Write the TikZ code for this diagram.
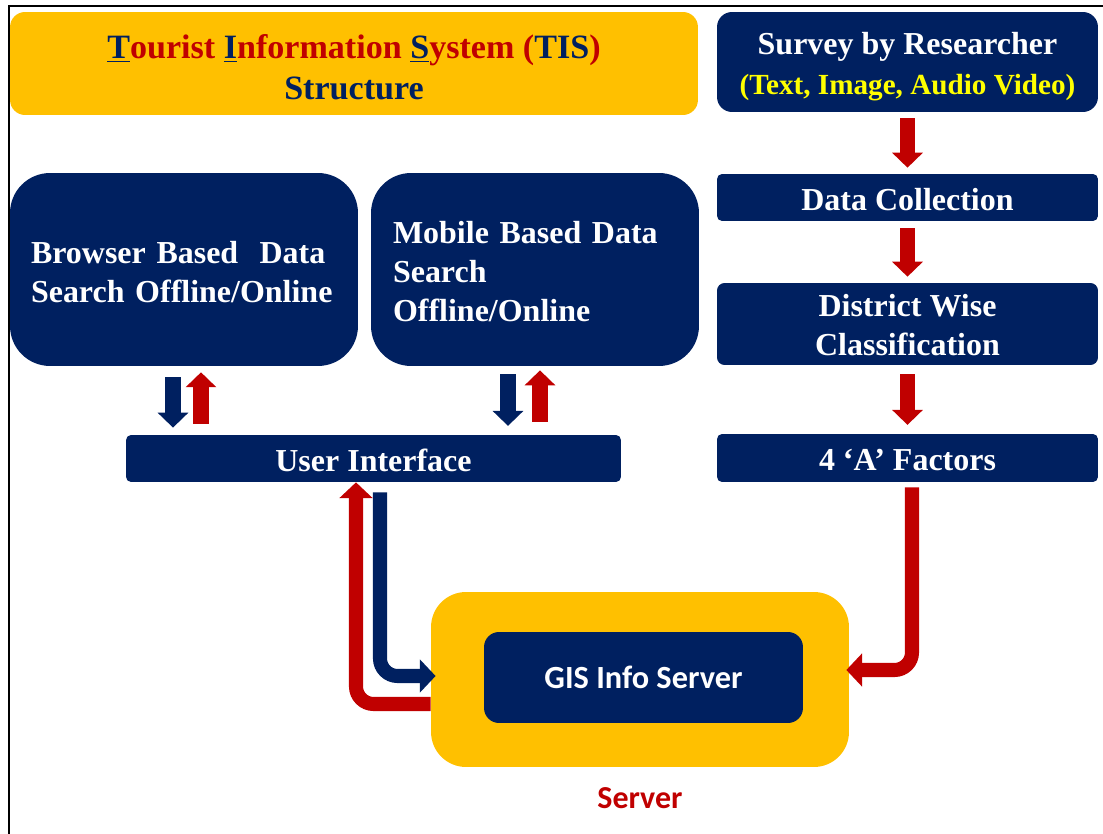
\documentclass[tikz,border=0pt]{standalone}
\usepackage{fontspec}
\setmainfont{Liberation Serif}
\newfontfamily\calibri{Carlito}
\usetikzlibrary{arrows.meta}

\definecolor{navy}{HTML}{002060}
\definecolor{tisred}{HTML}{C00000}
\definecolor{gold}{HTML}{FFC000}
\definecolor{lemon}{HTML}{FFFF00}

\begin{document}
\begin{tikzpicture}[x=0.02cm, y=-0.02cm,
    box/.style={fill=navy, text=white, inner sep=0pt, align=center,
      font=\fontsize{18.2}{22.4}\selectfont\bfseries},
    oneline/.style={text height=14.6pt, text depth=0pt},
    navyarrow/.style={draw=navy, line width=9pt, -{Triangle[width=17pt,length=8.5pt]}},
    redarrow/.style={draw=tisred, line width=9pt, -{Triangle[width=17pt,length=8.5pt]}},
    bendarrow/.style={line width=8pt, rounded corners=0.35cm, -{Triangle[width=18.5pt,length=9pt]}}]
    \useasboundingbox (0,0) rectangle (1103,834);
    \draw [line width=1.2pt] (9,834) -- (9,6) -- (1103,6);

    % heading
    \node [fill=gold, text=navy, rounded corners=0.3cm, minimum width=13.76cm,
      minimum height=2.06cm, align=center, font=\fontsize{19.4}{23.4}\selectfont\bfseries]
      (title) at (354,63.5) {\rule{0pt}{18pt}\underline{T}{\color{tisred}ourist }\underline{I}{\color{tisred}nformation
      }\underline{S}{\color{tisred}ystem (}TIS{\color{tisred})}\\Structure};

    % right column
    \node [box, rounded corners=0.3cm, minimum width=7.62cm, minimum height=2cm]
      (survey) at (907.5,62) {\rule{0pt}{18pt}Survey by Researcher\\{\color{lemon}\fontsize{16.6}{22.4}\selectfont (Text, Image, Audio Video)}};
    \node [box, oneline, rounded corners=0.1cm, minimum width=7.62cm, minimum height=0.94cm]
      (collect) at (907.5,197.5) {Data Collection};
    \node [box, rounded corners=0.15cm, minimum width=7.62cm, minimum height=1.64cm]
      (district) at (907.5,324) {\rule{0pt}{14pt}District Wise\\Classification};
    \node [box, oneline, rounded corners=0.1cm, minimum width=7.62cm, minimum height=0.96cm]
      (factors) at (907.5,458) {4 `A' Factors};

    % search boxes and user interface
    \node [box, rounded corners=0.8cm, minimum width=6.96cm, minimum height=3.86cm,
      text width=6.12cm, align=left] (browser) at (184,269.5) {\rule{0pt}{15.5pt}Browser Based~ Data\\Search Offline/Online};
    \node [box, rounded corners=0.8cm, minimum width=6.56cm, minimum height=3.86cm,
      text width=5.68cm, align=left] (mobile) at (535,269.5) {\rule{0pt}{15pt}Mobile Based Data\\Search\\Offline/Online};
    \node [box, oneline, rounded corners=0.1cm, minimum width=9.9cm, minimum height=0.94cm]
      (ui) at (373.5,458.5) {User Interface};

    % server
    \node [fill=gold, rounded corners=0.7cm, minimum width=8.36cm, minimum height=3.5cm]
      (server) at (640,679.5) {};
    \node [box, rounded corners=0.3cm, minimum width=6.38cm, minimum height=1.82cm,
      font=\calibri\fontsize{18.4}{22}\selectfont\bfseries] (gis) at (643.5,677.5) {GIS Info Server};
    \node [text=tisred, font=\calibri\fontsize{18.2}{22}\selectfont\bfseries]
      (serverlabel) at (640,798) {Server};

    % data flow on the right
    \draw [redarrow, shorten <=3.4pt, shorten >=3.4pt] (survey) -- (collect);
    \draw [redarrow, shorten <=4pt, shorten >=3.4pt] (collect) -- (district);
    \draw [redarrow, shorten <=5pt, shorten >=5pt] (district) -- (factors);

    % requests and replies
    \draw [navyarrow, shorten <=6.3pt, shorten >=4pt] (browser.south -| 173,0) -- (ui.north -| 173,0);
    \draw [redarrow, shorten <=6.3pt, shorten >=3.4pt] (ui.north -| 201,0) -- (browser.south -| 201,0);
    \draw [navyarrow, shorten <=4.6pt, shorten >=5pt] (mobile.south -| 508,0) -- (ui.north -| 508,0);
    \draw [redarrow, shorten <=7.4pt, shorten >=2.3pt] (ui.north -| 540,0) -- (mobile.south -| 540,0);

    \draw [bendarrow, draw=tisred] (server.west |- 0,704) -| (ui.south -| 356,0);
    \draw [bendarrow, draw=navy, shorten <=5.7pt, shorten >=-2.8pt] (ui.south -| 380,0) |- (server.west |- 0,676);
    \draw [bendarrow, draw=tisred, shorten <=2.8pt, shorten >=-1.7pt] (factors.south -| 912,0) |- (server.east |- 0,670);
\end{tikzpicture}
\end{document}
